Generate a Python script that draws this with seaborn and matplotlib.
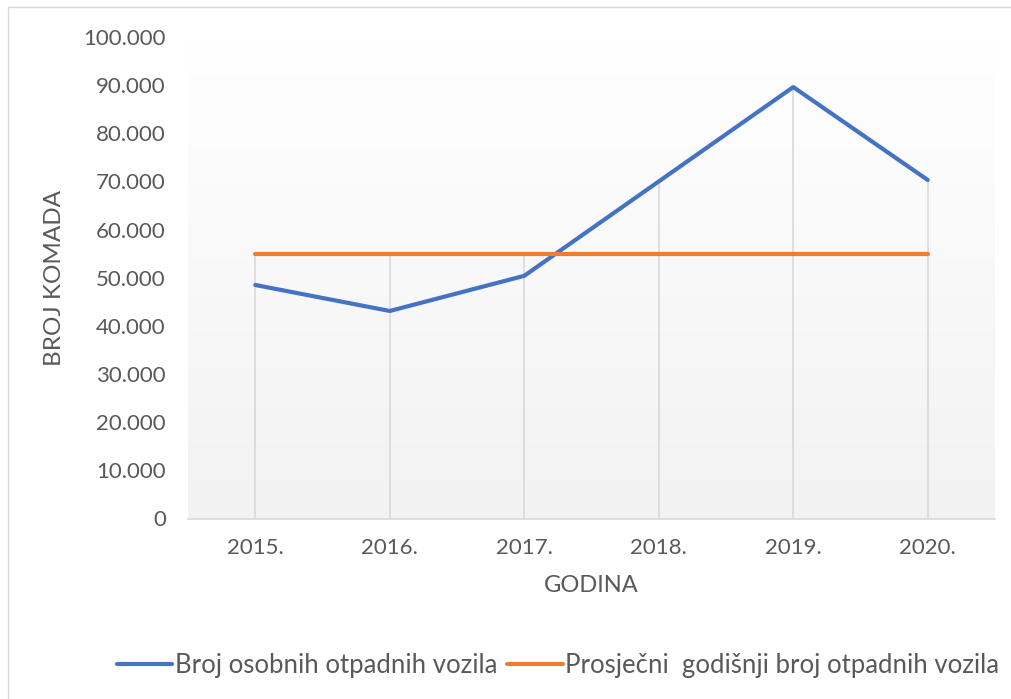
import numpy as np
import pandas as pd
import matplotlib
matplotlib.use("Agg")
import matplotlib.pyplot as plt
import seaborn as sns
from matplotlib.ticker import FuncFormatter, MultipleLocator
from matplotlib.colors import LinearSegmentedColormap
from matplotlib.patches import Rectangle
from matplotlib.lines import Line2D

years = ["2015.", "2016.", "2017.", "2018.", "2019.", "2020."]
vehicles = [48500, 43100, 50400, 70000, 89600, 70300]
average = [54900, 54900, 54900, 54900, 54900, 54900]
series_names = ["Broj osobnih otpadnih vozila", "Prosječni  godišnji broj otpadnih vozila"]
colors = ["#4472C4", "#ED7D31"]

df = pd.DataFrame({
    "x": list(range(len(years))) * 2,
    "value": vehicles + average,
    "series": [series_names[0]] * len(years) + [series_names[1]] * len(years),
})

sns.set_theme(style="white")
plt.rcParams["font.family"] = ["Lato", "DejaVu Sans"]
text_color = "#595959"

fig = plt.figure(figsize=(10.11, 6.99), dpi=100)
ax = fig.add_axes([188 / 1011, 1 - 518.5 / 699, (995 - 188) / 1011, (518.5 - 37) / 699])

# gradient background
grad = np.linspace(0, 1, 256).reshape(-1, 1)
cmap = LinearSegmentedColormap.from_list("g", ["#F2F2F2", "#FFFFFF"])
ax.imshow(grad, extent=[-0.5, 5.5, 0, 100000], origin="lower", aspect="auto",
          cmap=cmap, zorder=0)

# drop lines (from highest series point to axis)
tops = [max(a, b) for a, b in zip(vehicles, average)]
ax.vlines(range(len(years)), 0, tops, color="#D9D9D9", lw=1.2, zorder=1)

sns.lineplot(data=df, x="x", y="value", hue="series", palette=colors,
             linewidth=3.0, ax=ax, legend=False, zorder=3,
             solid_capstyle="round")

ax.set_xlim(-0.5, 5.5)
ax.set_ylim(0, 100000)
ax.set_xticks(range(len(years)))
ax.set_xticklabels(years)
ax.yaxis.set_major_locator(MultipleLocator(10000))
ax.yaxis.set_major_formatter(FuncFormatter(lambda v, p: f"{int(v):,}".replace(",", ".")))
ax.tick_params(axis="both", colors=text_color, labelsize=16, length=0)
ax.tick_params(axis="y", pad=16)
ax.tick_params(axis="x", pad=14)

for s in ["top", "right", "left"]:
    ax.spines[s].set_visible(False)
ax.spines["bottom"].set_color("#D9D9D9")
ax.spines["bottom"].set_linewidth(1.2)
ax.set_facecolor("none")

ax.set_xlabel("GODINA", fontsize=17, color=text_color, labelpad=12)
ax.set_ylabel("BROJ KOMADA", fontsize=17.5, color=text_color, labelpad=13)

# figure border
fig.patches.append(Rectangle((8 / 1011, -0.1), 1.2, 1.1 - 7 / 699,
                             transform=fig.transFigure, fill=False,
                             edgecolor="#D9D9D9", lw=1.0))

handles = [Line2D([0], [0], color=c, lw=3.0) for c in colors]
fig.legend(handles, series_names, loc="center", bbox_to_anchor=(558 / 1011, 1 - 665 / 699),
           ncol=2, frameon=False, fontsize=18.5, labelcolor=text_color,
           handlelength=2.15, handletextpad=0.1, columnspacing=0.4)

fig.savefig("out.png", dpi=100)
